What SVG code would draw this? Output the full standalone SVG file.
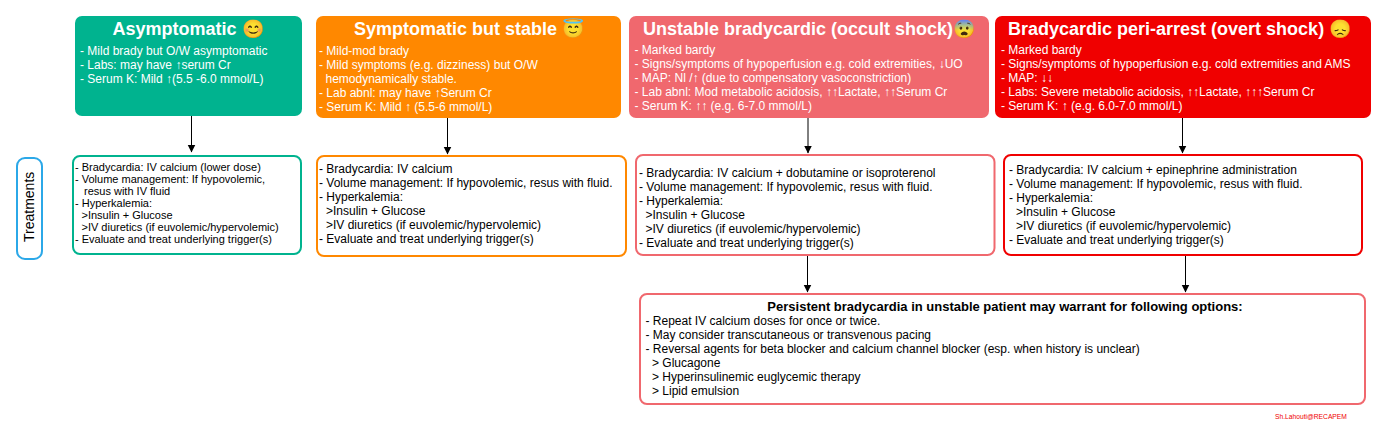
<svg xmlns="http://www.w3.org/2000/svg" width="1378" height="427" viewBox="0 0 1378 427">
<style>
text{font-family:"Liberation Sans",Arial,sans-serif}
.t{font-size:18px;font-weight:bold;fill:#fff}
.w{font-size:12px;fill:#fff}
.b{font-size:12px;fill:#000}
.s{font-size:11px;fill:#000}
.o{fill:#fff;stroke-width:2}
.c{stroke:#000;stroke-width:1;fill:none;marker-end:url(#a)}
</style>
<defs><marker id="a" markerUnits="userSpaceOnUse" markerWidth="8" markerHeight="9" refX="7.5" refY="4" orient="auto"><path d="M0 0L8 4L0 8Z" fill="#000"/></marker></defs>
<rect width="1378" height="427" fill="#fff"/>
<g id="connectors">
<path class="c" d="M191.5 116V152"/>
<path class="c" d="M447.5 118V154"/>
<path class="c" d="M808 118V153"/>
<path class="c" d="M1182.5 118V153"/>
<path class="c" d="M807.5 255V292"/>
<path class="c" d="M1185.5 256V292"/>
</g>
<g id="n1"><rect x="75" y="16" width="227" height="100" rx="7" fill="#00B38F"/>
<text class="t" x="112.5" y="35">Asymptomatic 😊</text>
<text class="w" x="80" y="55">- Mild brady but O/W asymptomatic</text>
<text class="w" x="80" y="69">- Labs: may have ↑serum Cr</text>
<text class="w" x="80" y="83">- Serum K: Mild ↑(5.5 -6.0 mmol/L)</text></g>
<g id="n2"><rect x="316" y="16" width="305" height="102" rx="7" fill="#FF8800"/>
<text class="t" x="354" y="35">Symptomatic but stable 😇</text>
<text class="w" x="319" y="55">- Mild-mod brady</text>
<text class="w" x="319" y="69">- Mild symptoms (e.g. dizziness) but O/W</text>
<text class="w" x="325.5" y="83">hemodynamically stable.</text>
<text class="w" x="319" y="97">- Lab abnl: may have ↑Serum Cr</text>
<text class="w" x="319" y="111">- Serum K: Mild ↑ (5.5-6 mmol/L)</text></g>
<g id="n3"><rect x="629" y="16" width="360" height="102" rx="7" fill="#F0686E"/>
<text class="t" x="643" y="35">Unstable bradycardic (occult shock)😨</text>
<text class="w" x="634.5" y="54">- Marked bardy</text>
<text class="w" x="634.5" y="68">- Signs/symptoms of hypoperfusion e.g. cold extremities, ↓UO</text>
<text class="w" x="634.5" y="82">- MAP: Nl /↑ (due to compensatory vasoconstriction)</text>
<text class="w" x="634.5" y="96">- Lab abnl: Mod metabolic acidosis, ↑↑Lactate, ↑↑Serum Cr</text>
<text class="w" x="634.5" y="110">- Serum K: ↑↑ (e.g. 6-7.0 mmol/L)</text></g>
<g id="n4"><rect x="995" y="16" width="376" height="102" rx="7" fill="#F00000"/>
<text class="t" x="1008" y="35">Bradycardic peri-arrest (overt shock) 😞</text>
<text class="w" x="1001" y="54">- Marked bardy</text>
<text class="w" x="1001" y="68">- Signs/symptoms of hypoperfusion e.g. cold extremities and AMS</text>
<text class="w" x="1001" y="82">- MAP: ↓↓</text>
<text class="w" x="1001" y="96">- Labs: Severe metabolic acidosis, ↑↑Lactate, ↑↑↑Serum Cr</text>
<text class="w" x="1001" y="110">- Serum K: ↑ (e.g. 6.0-7.0 mmol/L)</text></g>
<g id="label"><rect class="o" x="17" y="158" width="25" height="101" rx="8" stroke="#2BA8E8"/>
<text transform="translate(34,242) rotate(-90)" style="font-size:14px" fill="#000">Treatments</text></g>
<g id="t1"><rect class="o" x="73" y="156" width="228" height="98" rx="7" stroke="#00B38F"/>
<text class="s" x="75" y="171">- Bradycardia: IV calcium (lower dose)</text>
<text class="s" x="75" y="183">- Volume management: If hypovolemic,</text>
<text class="s" x="84" y="195">resus with IV fluid</text>
<text class="s" x="75" y="207">- Hyperkalemia:</text>
<text class="s" x="81.5" y="219">&gt;Insulin + Glucose</text>
<text class="s" x="81.5" y="231">&gt;IV diuretics (if euvolemic/hypervolemic)</text>
<text class="s" x="75" y="243">- Evaluate and treat underlying trigger(s)</text></g>
<g id="t2"><rect class="o" x="317" y="156" width="309" height="100" rx="7" stroke="#FF8800"/>
<text class="b" x="319" y="173">- Bradycardia: IV calcium</text>
<text class="b" x="319" y="187">- Volume management: If hypovolemic, resus with fluid.</text>
<text class="b" x="319" y="201">- Hyperkalemia:</text>
<text class="b" x="326" y="215">&gt;Insulin + Glucose</text>
<text class="b" x="326" y="229">&gt;IV diuretics (if euvolemic/hypervolemic)</text>
<text class="b" x="319" y="243">- Evaluate and treat underlying trigger(s)</text></g>
<g id="t3"><rect class="o" x="636" y="155" width="358.500" height="100" rx="7" stroke="#F0686E"/>
<text class="b" x="639" y="177">- Bradycardia: IV calcium + dobutamine or isoproterenol</text>
<text class="b" x="639" y="191">- Volume management: If hypovolemic, resus with fluid.</text>
<text class="b" x="639" y="205">- Hyperkalemia:</text>
<text class="b" x="645.500" y="219">&gt;Insulin + Glucose</text>
<text class="b" x="645.500" y="233">&gt;IV diuretics (if euvolemic/hypervolemic)</text>
<text class="b" x="639" y="247">- Evaluate and treat underlying trigger(s)</text></g>
<g id="t4"><rect class="o" x="1004" y="155" width="358" height="100" rx="7" stroke="#F00000"/>
<text class="b" x="1009" y="174">- Bradycardia: IV calcium + epinephrine administration</text>
<text class="b" x="1009" y="188">- Volume management: If hypovolemic, resus with fluid.</text>
<text class="b" x="1009" y="202">- Hyperkalemia:</text>
<text class="b" x="1016" y="216">&gt;Insulin + Glucose</text>
<text class="b" x="1016" y="230">&gt;IV diuretics (if euvolemic/hypervolemic)</text>
<text class="b" x="1009" y="244">- Evaluate and treat underlying trigger(s)</text></g>
<g id="n5"><rect class="o" x="640" y="294" width="725" height="110" rx="7" stroke="#F0686E"/>
<text x="1005" y="311" text-anchor="middle" style="font-size:13px;font-weight:bold">Persistent bradycardia in unstable patient may warrant for following options:</text>
<text class="b" x="645.500" y="325">- Repeat IV calcium doses for once or twice.</text>
<text class="b" x="645.500" y="339">- May consider transcutaneous or transvenous pacing</text>
<text class="b" x="645.500" y="353">- Reversal agents for beta blocker and calcium channel blocker (esp. when history is unclear)</text>
<text class="b" x="652" y="367">&gt; Glucagone</text>
<text class="b" x="652" y="381">&gt; Hyperinsulinemic euglycemic therapy</text>
<text class="b" x="652" y="395">&gt; Lipid emulsion</text></g>
<text x="1275" y="419" style="font-size:6.7px" fill="#F00000">Sh.Lahouti@RECAPEM</text>
</svg>
